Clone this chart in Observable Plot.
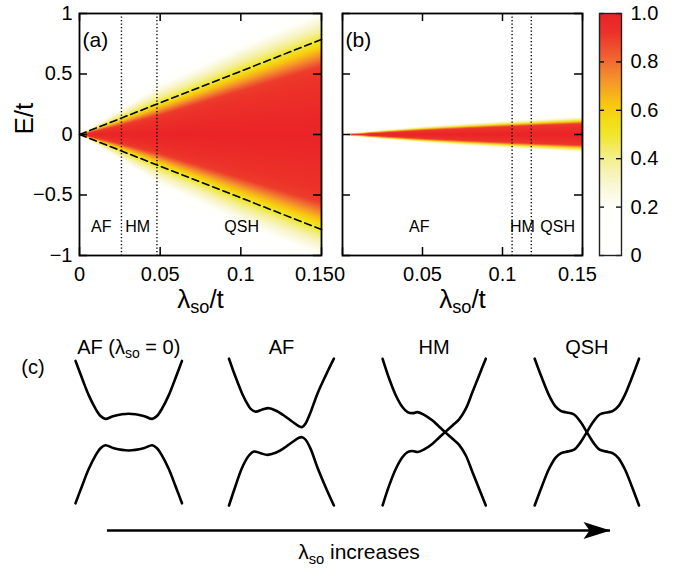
<!DOCTYPE html>
<html><head><meta charset="utf-8">
<script src="https://cdn.jsdelivr.net/npm/d3@7"></script>
<script src="https://cdn.jsdelivr.net/npm/@observablehq/plot@0.6"></script>
<style>
html,body{margin:0;padding:0;background:#fff;}
#fig{position:relative;width:685px;height:569px;overflow:hidden;}
#fig svg{position:absolute;overflow:visible;}
</style></head>
<body><div id="fig"></div>
<script>
// ---------------- data ----------------
const lambdaTicks = [0, 0.05, 0.1, 0.15];
const lambdaTickLabels = ["0", "0.05", "0.1", "0.15"];
const energyTicks = [-1, -0.5, 0, 0.5, 1];
const energyTickLabels = ["\u22121", "\u22120.5", "0", "0.5", "1"];
const colorbarTicks = [0, 0.2, 0.4, 0.6, 0.8, 1];
const colorbarTickLabels = ["0", "0.2", "0.4", "0.6", "0.8", "1.0"];
const colorStops = [0, 0.2, 0.3, 0.4, 0.5, 0.56, 0.63, 0.72, 0.82, 0.92, 1];
const colorHex = ["#ffffff", "#fffffb", "#f9f6cf", "#f4ef90", "#f0e62a", "#f3dc18", "#f8c412", "#f5962a", "#f06230", "#ec3229", "#ea2327"];

// spectral weight contours: |E|/t where the weight equals each level, at sampled lambda_so/t
const lambdaSamples = [0, 0.025, 0.05, 0.075, 0.1, 0.125, 0.15];
const contourLevels = [1.0, 0.9, 0.7, 0.5, 0.35, 0.2, 0.0];
const halfWidthA_100 = [0, 0, 0, 0, 0, 0, 0];
const halfWidthA_090 = [0, 0.075, 0.16, 0.26, 0.36, 0.46, 0.56];
const halfWidthA_070 = [0, 0.10, 0.21, 0.325, 0.44, 0.555, 0.67];
const halfWidthA_050 = [0, 0.13, 0.265, 0.395, 0.53, 0.655, 0.78];
const halfWidthA_035 = [0, 0.165, 0.33, 0.47, 0.62, 0.75, 0.88];
const halfWidthA_020 = [0, 0.20, 0.41, 0.56, 0.72, 0.86, 1.00];
const halfWidthA_000 = [0, 0.27, 0.49, 0.66, 0.84, 0.98, 1.12];
const halfWidthB_100 = [0, 0, 0, 0, 0, 0, 0];
const halfWidthB_090 = [0, 0.018, 0.036, 0.052, 0.066, 0.079, 0.090];
const halfWidthB_070 = [0, 0.022, 0.043, 0.060, 0.076, 0.090, 0.103];
const halfWidthB_050 = [0, 0.027, 0.050, 0.069, 0.086, 0.102, 0.117];
const halfWidthB_035 = [0, 0.032, 0.057, 0.078, 0.097, 0.114, 0.131];
const halfWidthB_020 = [0, 0.038, 0.066, 0.089, 0.110, 0.128, 0.147];
const halfWidthB_000 = [0, 0.052, 0.085, 0.110, 0.135, 0.157, 0.178];

const phaseBoundsA = [0.026, 0.048];
const phaseBoundsB = [0.106, 0.118];
const phaseNames = ["AF", "HM", "QSH"];
const phaseLabelLambdaA = [0.0135, 0.036, 0.1005];
const phaseLabelLambdaB = [0.048, 0.1125, 0.1345];
const phaseLabelEnergy = -0.76;
const gapEdgeLambda = [0, 0.15];
const gapEdgeEnergy = [0, 0.785];

// panel (c): schematic bands, k and E normalised to [-1, 1] in each diagram
const diagramNames = ["AF (\u03bb_so = 0)", "AF", "HM", "QSH"];
const af0UpperK = [-1, -0.875, -0.75, -0.625, -0.53, -0.44, -0.28, 0, 0.28, 0.44, 0.53, 0.625, 0.75, 0.875, 1];
const af0UpperE = [0.97, 0.73, 0.50, 0.32, 0.22, 0.18, 0.22, 0.25, 0.22, 0.18, 0.22, 0.32, 0.50, 0.73, 0.97];
const af0LowerK = [-1, -0.875, -0.75, -0.625, -0.53, -0.44, -0.28, 0, 0.28, 0.44, 0.53, 0.625, 0.75, 0.875, 1];
const af0LowerE = [-0.97, -0.73, -0.50, -0.32, -0.22, -0.18, -0.22, -0.25, -0.22, -0.18, -0.22, -0.32, -0.50, -0.73, -0.97];
const afUpperK = [-0.985, -0.86, -0.735, -0.64, -0.578, -0.484, -0.358, -0.235, -0.11, 0.046, 0.2, 0.328, 0.39, 0.45, 0.548, 0.674, 0.83, 0.985];
const afUpperE = [1.0, 0.747, 0.52, 0.384, 0.316, 0.279, 0.308, 0.326, 0.294, 0.226, 0.144, 0.08, 0.068, 0.113, 0.272, 0.52, 0.77, 1.0];
const afLowerK = [-0.985, -0.86, -0.735, -0.61, -0.516, -0.39, -0.265, -0.11, 0.046, 0.2, 0.328, 0.39, 0.45, 0.548, 0.674, 0.83, 0.985];
const afLowerE = [-1.0, -0.727, -0.478, -0.319, -0.264, -0.288, -0.31, -0.282, -0.219, -0.138, -0.078, -0.069, -0.101, -0.228, -0.478, -0.75, -1.0];
const hmK = [-0.968, -0.844, -0.719, -0.593, -0.499, -0.405, -0.311, -0.188, -0.03, 0.09, 0.206, 0.345, 0.469, 0.595, 0.72, 0.844, 0.97];
const hmFallE = [0.998, 0.726, 0.499, 0.339, 0.272, 0.258, 0.272, 0.236, 0.158, 0.076, 0, -0.091, -0.173, -0.319, -0.546, -0.772, -1.0];
const hmRiseE = [-0.998, -0.726, -0.499, -0.339, -0.272, -0.258, -0.272, -0.236, -0.158, -0.076, 0, 0.091, 0.173, 0.319, 0.546, 0.772, 1.0];
const qshK = [-0.98, -0.84, -0.71, -0.59, -0.49, -0.40, -0.24, -0.12, 0, 0.12, 0.24, 0.40, 0.49, 0.59, 0.71, 0.84, 0.98];
const qshFallE = [1.0, 0.73, 0.50, 0.35, 0.29, 0.27, 0.24, 0.14, 0, -0.14, -0.24, -0.27, -0.29, -0.35, -0.50, -0.73, -1.0];
const qshRiseE = [-1.0, -0.73, -0.50, -0.35, -0.29, -0.27, -0.24, -0.14, 0, 0.14, 0.24, 0.27, 0.29, 0.35, 0.50, 0.73, 1.0];
const arrowSpan = [0, 1];
const arrowLabel = "\u03bb_so increases";

// ---------------- helpers ----------------
const FONT = '"Liberation Sans", Arial, Helvetica, sans-serif';
const fig = document.getElementById("fig");
const colorScale = {type: "linear", domain: colorStops, range: colorHex, interpolate: "rgb", clamp: true};
const mapOf = (keys, vals) => new Map(keys.map((k, i) => [k, vals[i]]));
const lambdaLabel = mapOf(lambdaTicks, lambdaTickLabels);
const energyLabel = mapOf(energyTicks, energyTickLabels);
const cbLabel = mapOf(colorbarTicks, colorbarTickLabels);

function intensity(widthRows) {
  return (x, y) => {
    let i = d3.bisectRight(lambdaSamples, x) - 1;
    i = Math.max(0, Math.min(lambdaSamples.length - 2, i));
    const t = (x - lambdaSamples[i]) / (lambdaSamples[i + 1] - lambdaSamples[i]);
    const w = widthRows.map(r => r[i] + (r[i + 1] - r[i]) * t);
    const e = Math.abs(y);
    if (e <= w[0]) return contourLevels[0];
    for (let j = 1; j < w.length; j++) {
      if (e <= w[j]) {
        const u = (e - w[j - 1]) / (w[j] - w[j - 1]);
        return contourLevels[j - 1] + (contourLevels[j] - contourLevels[j - 1]) * u;
      }
    }
    return 0;
  };
}

function place(svg, left, top) {
  svg.style.left = left + "px";
  svg.style.top = top + "px";
  subscriptify(svg);
  fig.appendChild(svg);
}

function subscriptify(svg) {
  const ns = "http://www.w3.org/2000/svg";
  svg.querySelectorAll("text").forEach(t => {
    const nodes = t.querySelector("tspan") ? [...t.querySelectorAll("tspan")] : [t];
    nodes.forEach(n => {
      const s = n.textContent;
      if (!s.includes("_so")) return;
      const [pre, post] = s.split("_so");
      n.textContent = "";
      n.appendChild(document.createTextNode(pre));
      const sub = document.createElementNS(ns, "tspan");
      sub.setAttribute("font-size", "70%");
      sub.setAttribute("dy", "0.3em");
      sub.textContent = "so";
      n.appendChild(sub);
      const rest = document.createElementNS(ns, "tspan");
      rest.setAttribute("dy", "-0.21em");
      rest.textContent = post;
      n.appendChild(rest);
    });
  });
}

const baseStyle = {fontFamily: FONT, color: "black", background: "transparent", overflow: "visible"};

function heatPanel({width, marginLeft, marginRight, widthRows, bounds, labelLambda, tag, yLabels, firstDx, lastDx}) {
  const innerW = width - marginLeft - marginRight;
  const innerH = 242;
  const upper = gapEdgeLambda.map((x, i) => ({x, y: gapEdgeEnergy[i]}));
  const lower = gapEdgeLambda.map((x, i) => ({x, y: -gapEdgeEnergy[i]}));
  const xLab = {tickSize: 0, tickPadding: 11, tickFormat: d => lambdaLabel.get(d), fontSize: 20, label: null};
  const marks = [
    Plot.raster({fill: intensity(widthRows), x1: 0, x2: 0.15, y1: -1, y2: 1, pixelSize: 1}),
    Plot.ruleX(bounds, {x: d => d, stroke: "black", strokeWidth: 1.4, strokeDasharray: "1.3,2.2"}),
  ];
  if (yLabels) {
    marks.push(
      Plot.line(upper, {x: "x", y: "y", stroke: "black", strokeWidth: 1.6, strokeDasharray: "7,4"}),
      Plot.line(lower, {x: "x", y: "y", stroke: "black", strokeWidth: 1.6, strokeDasharray: "7,4"})
    );
  }
  marks.push(
    Plot.text(phaseNames, {x: (d, i) => labelLambda[i], y: () => phaseLabelEnergy, text: d => d, fontSize: 16}),
    Plot.text([tag], {frameAnchor: "top-left", text: d => d, dx: 3, dy: 27, lineAnchor: "middle", textAnchor: "start", fontSize: 21}),
    Plot.tickX(lambdaTicks, {x: d => d, insetTop: innerH - 8, strokeWidth: 1.5}),
    Plot.tickX(lambdaTicks, {x: d => d, insetBottom: innerH - 8, strokeWidth: 1.5}),
    Plot.tickY(energyTicks, {y: d => d, insetRight: innerW - 8, strokeWidth: 1.5}),
    Plot.tickY(energyTicks, {y: d => d, insetLeft: innerW - 8, strokeWidth: 1.5}),
    Plot.axisX({...xLab, ticks: lambdaTicks.slice(0, 1), dx: firstDx}),
    Plot.axisX({...xLab, ticks: lambdaTicks.slice(1, -1)}),
    Plot.axisX({...xLab, ticks: lambdaTicks.slice(-1), dx: lastDx}),
    Plot.text(["\u03bb_so/t"], {frameAnchor: "bottom", text: d => d, dy: 44, lineAnchor: "middle", fontSize: 26}),
    Plot.frame({stroke: "black", strokeWidth: 1.8})
  );
  if (yLabels) {
    marks.push(
      Plot.axisY({ticks: energyTicks, tickSize: 0, tickPadding: 7, tickFormat: d => energyLabel.get(d), fontSize: 20, label: null}),
      Plot.text(["E/t"], {frameAnchor: "left", text: d => d, dx: -55, rotate: -90, fontSize: 26})
    );
  }
  return Plot.plot({
    width, height: 320, marginLeft, marginRight, marginTop: 13, marginBottom: 65,
    x: {domain: [0, 0.15]},
    y: {domain: [-1, 1], axis: yLabels ? undefined : null},
    color: colorScale,
    style: baseStyle,
    marks
  });
}

// panel (a)
place(heatPanel({
  width: 330, marginLeft: 79, marginRight: 9,
  widthRows: [halfWidthA_100, halfWidthA_090, halfWidthA_070, halfWidthA_050, halfWidthA_035, halfWidthA_020, halfWidthA_000],
  bounds: phaseBoundsA, labelLambda: phaseLabelLambdaA, tag: "(a)", yLabels: true, firstDx: 0, lastDx: -7
}), 0, 0);

// panel (b)
place(heatPanel({
  width: 265, marginLeft: 12, marginRight: 13,
  widthRows: [halfWidthB_100, halfWidthB_090, halfWidthB_070, halfWidthB_050, halfWidthB_035, halfWidthB_020, halfWidthB_000],
  bounds: phaseBoundsB, labelLambda: phaseLabelLambdaB, tag: "(b)", yLabels: false, firstDx: -3, lastDx: -5
}), 330, 0);

// colorbar
place(Plot.plot({
  width: 100, height: 320, marginLeft: 14, marginRight: 64, marginTop: 13, marginBottom: 65,
  x: {domain: [0, 1], axis: null},
  y: {domain: [0, 1]},
  color: colorScale,
  style: baseStyle,
  marks: [
    Plot.raster({fill: (x, y) => y, x1: 0, x2: 1, y1: 0, y2: 1, pixelSize: 1}),
    Plot.tickY(colorbarTicks, {y: d => d, insetRight: 17, strokeWidth: 1.3}),
    Plot.tickY(colorbarTicks, {y: d => d, insetLeft: 17, strokeWidth: 1.3}),
    Plot.axisY({anchor: "right", ticks: colorbarTicks, tickSize: 0, tickPadding: 9, tickFormat: d => cbLabel.get(d), fontSize: 20, label: null}),
    Plot.frame({stroke: "#222", strokeWidth: 1.4})
  ]
}), 585, 0);

// panel (c)
const bandRows = [];
function addBranch(diagram, branch, K, E) { K.forEach((k, i) => bandRows.push({diagram, branch, k, E: E[i]})); }
addBranch(diagramNames[0], "upper", af0UpperK, af0UpperE);
addBranch(diagramNames[0], "lower", af0LowerK, af0LowerE);
addBranch(diagramNames[1], "upper", afUpperK, afUpperE);
addBranch(diagramNames[1], "lower", afLowerK, afLowerE);
addBranch(diagramNames[2], "fall", hmK, hmFallE);
addBranch(diagramNames[2], "rise", hmK, hmRiseE);
addBranch(diagramNames[3], "fall", qshK, qshFallE);
addBranch(diagramNames[3], "rise", qshK, qshRiseE);

place(Plot.plot({
  width: 685, height: 200, marginLeft: 75, marginRight: 45.4, marginTop: 38.2, marginBottom: 15,
  fx: {domain: diagramNames, paddingInner: 0.3026, paddingOuter: 0, round: false, axis: null},
  x: {domain: [-1, 1], axis: null},
  y: {domain: [-1, 1], axis: null},
  style: baseStyle,
  marks: [
    Plot.line(bandRows, {fx: "diagram", x: "k", y: "E", z: "branch", curve: "catmull-rom", stroke: "black", strokeWidth: 2.6}),
    Plot.text(diagramNames, {fx: d => d, text: d => d, frameAnchor: "top", dy: -5, lineAnchor: "bottom", fontSize: 20}),
    Plot.text(["(c)"], {fx: () => diagramNames[0], text: d => d, frameAnchor: "top-left", dx: -42.5, dy: 9, textAnchor: "middle", lineAnchor: "middle", fontSize: 20})
  ]
}), 0, 320);

// arrow
const headShape = {
  draw(context, l) {
    context.moveTo(0, -l);
    context.lineTo(-8.5, 0);
    context.lineTo(0, -6);
    context.lineTo(8.5, 0);
    context.closePath();
  }
};
place(Plot.plot({
  width: 685, height: 64, marginLeft: 107, marginRight: 75, marginTop: 0, marginBottom: 14,
  x: {domain: arrowSpan, axis: null},
  y: {domain: [-1, 1], axis: null},
  style: baseStyle,
  marks: [
    Plot.ruleY([0], {x1: arrowSpan[0], x2: arrowSpan[1], stroke: "black", strokeWidth: 2.5}),
    Plot.vector([arrowSpan[1]], {x: d => d, y: () => 0, rotate: 90, length: 27, anchor: "end", shape: headShape, fill: "black", stroke: "none"}),
    Plot.text([arrowLabel], {x: () => (arrowSpan[0] + arrowSpan[1]) / 2, y: () => 0, text: d => d, dy: 22, lineAnchor: "middle", fontSize: 21})
  ]
}), 0, 505);
</script>
</body></html>
